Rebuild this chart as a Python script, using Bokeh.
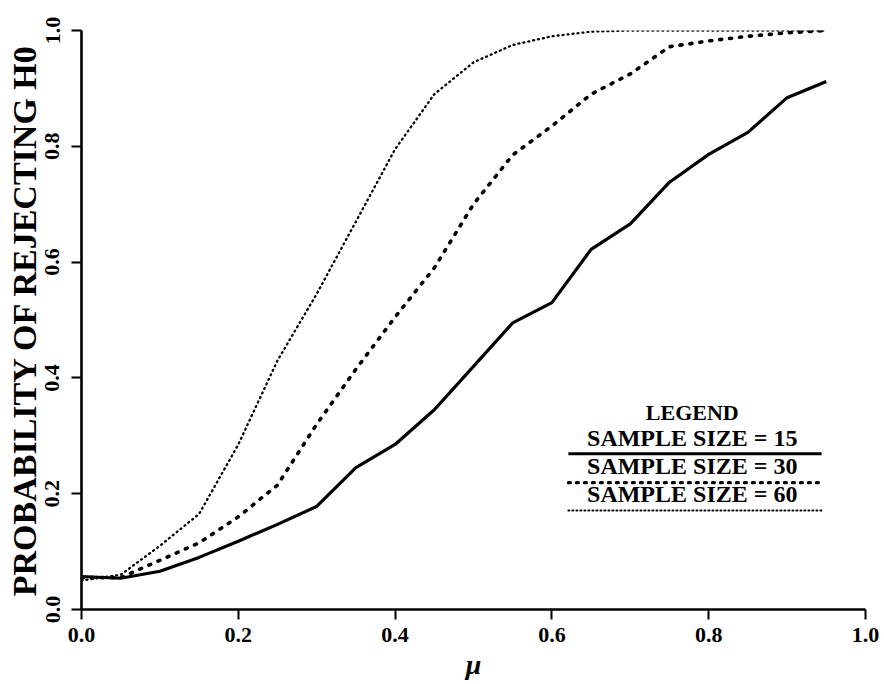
from bokeh.plotting import figure
from bokeh.models import Range1d, FixedTicker, Label, Arrow
from bokeh.embed import file_html
from bokeh.resources import INLINE

# ---- data ----
mu = [0.00, 0.05, 0.10, 0.15, 0.20, 0.25, 0.30, 0.35, 0.40, 0.45,
      0.50, 0.55, 0.60, 0.65, 0.70, 0.75, 0.80, 0.85, 0.90, 0.95]
power_n15 = [0.057, 0.054, 0.066, 0.090, 0.118, 0.147, 0.178, 0.245, 0.285, 0.345,
             0.420, 0.495, 0.530, 0.622, 0.666, 0.738, 0.786, 0.824, 0.884, 0.912]
power_n30 = [0.055, 0.055, 0.085, 0.115, 0.160, 0.215, 0.320, 0.415, 0.505, 0.590,
             0.700, 0.785, 0.835, 0.890, 0.925, 0.972, 0.982, 0.990, 0.996, 1.000]
power_n60 = [0.050, 0.060, 0.110, 0.165, 0.285, 0.430, 0.545, 0.670, 0.795, 0.890,
             0.945, 0.975, 0.990, 0.998, 1.000, 1.000, 1.000, 1.000, 1.000, 1.000]
x_ticks = [0.0, 0.2, 0.4, 0.6, 0.8, 1.0]
y_ticks = [0.0, 0.2, 0.4, 0.6, 0.8, 1.0]
legend_title = "LEGEND"
legend_labels = ["SAMPLE SIZE = 15", "SAMPLE SIZE = 30", "SAMPLE SIZE = 60"]

FONT = "Liberation Serif"

p = figure(frame_width=784, frame_height=579, output_backend="svg",
           toolbar_location=None,
           x_range=Range1d(0, 1), y_range=Range1d(0, 1),
           min_border_left=81, min_border_right=16, min_border_top=30,
           min_border_bottom=72)
p.outline_line_color = None
p.grid.visible = False
p.background_fill_color = "white"

# curves
p.line(mu, power_n15, line_color="black", line_width=3.2, line_join="round")
p.line(mu, power_n30, line_color="black", line_width=3.6, line_dash="2 8",
       line_cap="round")
p.line(mu, power_n60, line_color="black", line_width=2.3, line_dash="1 4",
       line_cap="round")

# axes
for ax in (p.xaxis[0], p.yaxis[0]):
    ax.axis_line_width = 2.6
    ax.axis_line_color = "black"
    ax.major_tick_line_width = 2
    ax.major_tick_line_color = "black"
    ax.major_tick_out = 10
    ax.major_tick_in = 0
    ax.minor_tick_line_color = None
    ax.major_label_text_font = FONT
    ax.major_label_text_font_style = "bold"
    ax.major_label_text_font_size = "22px"
    ax.major_label_text_color = "black"
    ax.axis_label_text_font = FONT
    ax.axis_label_text_color = "black"

p.xaxis[0].ticker = FixedTicker(ticks=x_ticks)
p.yaxis[0].ticker = FixedTicker(ticks=y_ticks)
p.xaxis[0].major_label_overrides = {t: f"{t:.1f}" for t in x_ticks}
p.yaxis[0].major_label_overrides = {t: f"{t:.1f}" for t in y_ticks}
p.xaxis[0].major_label_standoff = 8
p.yaxis[0].major_label_standoff = 12
p.yaxis[0].major_label_orientation = "vertical"

p.xaxis[0].axis_label = "μ"
p.xaxis[0].axis_label_text_font_style = "bold italic"
p.xaxis[0].axis_label_text_font_size = "28px"
p.xaxis[0].axis_label_standoff = 4

p.yaxis[0].axis_label = "PROBABILITY OF REJECTING H0"
p.yaxis[0].axis_label_text_font_style = "bold"
p.yaxis[0].axis_label_text_font_size = "34px"
p.yaxis[0].axis_label_standoff = 0

# legend (drawn as annotations)
lx0, lx1, lxc = 0.621, 0.944, 0.779
p.add_layout(Label(x=lxc, y=0.340, text=legend_title, text_align="center",
                   text_baseline="middle", text_font=FONT, text_font_style="bold",
                   text_font_size="22px", text_color="black"))
text_y = [0.297, 0.247, 0.199]
line_y = [0.269, 0.219, 0.171]
styles = [dict(line_width=3.0, line_dash="solid"),
          dict(line_width=3.2, line_dash="2 6", line_cap="round"),
          dict(line_width=2.0, line_dash="1 3", line_cap="round")]
for lbl, ty, ly, st in zip(legend_labels, text_y, line_y, styles):
    p.add_layout(Label(x=lxc, y=ty, text=lbl, text_align="center",
                       text_baseline="middle", text_font=FONT,
                       text_font_style="bold", text_font_size="24px",
                       text_color="black"))
    p.add_layout(Arrow(x_start=lx0, y_start=ly, x_end=lx1, y_end=ly, end=None,
                       line_color="black", **st))

open("out.html", "w").write(file_html(p, INLINE))
